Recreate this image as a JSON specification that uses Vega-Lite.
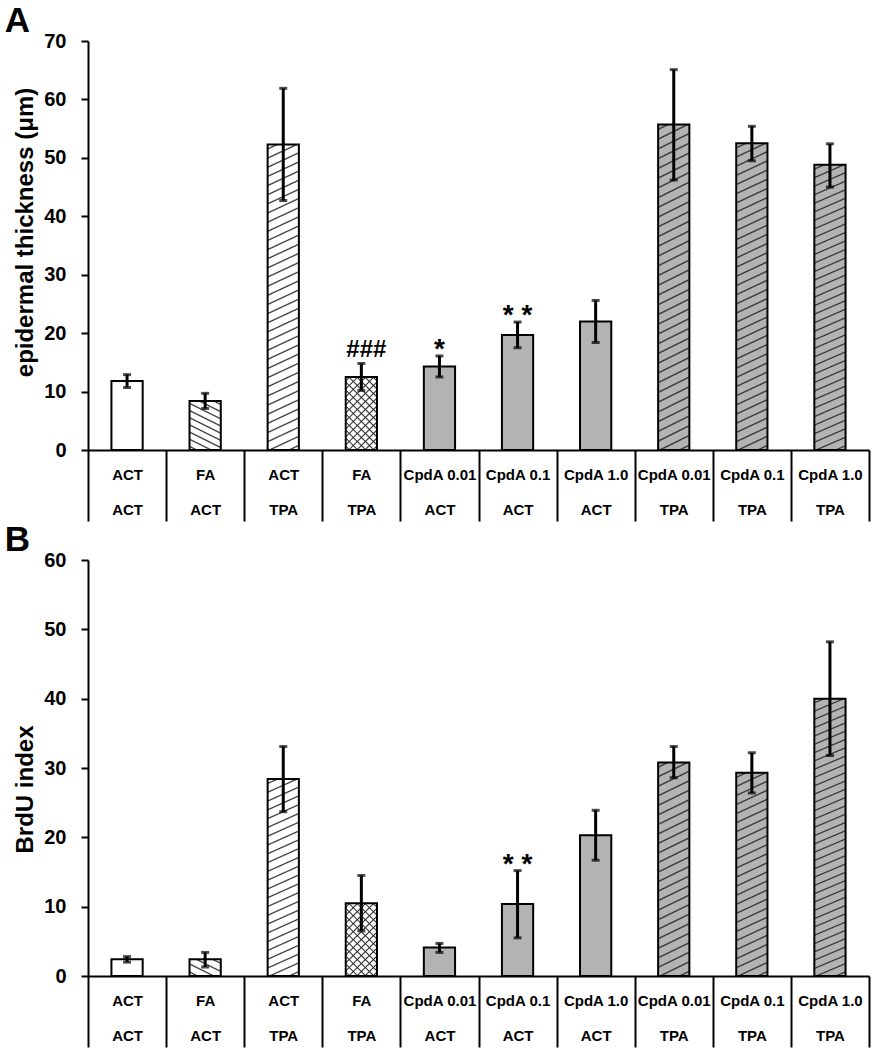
{
  "$schema": "https://vega.github.io/schema/vega-lite/v6.json",
  "padding": {"left": 4, "top": 4, "right": 3, "bottom": 0},
  "spacing": 1,
  "config": {"view": {"stroke": null}, "font": "Liberation Sans"},
  "datasets": {
    "A": [
      {"k": "ACT|ACT", "v": 11.8, "lo": 10.7, "hi": 12.9, "sig": ""},
      {"k": "FA|ACT", "v": 8.4, "lo": 7.1, "hi": 9.7, "sig": ""},
      {"k": "ACT|TPA", "v": 52.3, "lo": 42.7, "hi": 61.9, "sig": ""},
      {"k": "FA|TPA", "v": 12.5, "lo": 10.2, "hi": 14.8, "sig": "###"},
      {"k": "CpdA 0.01|ACT", "v": 14.3, "lo": 12.5, "hi": 16.1, "sig": "*"},
      {"k": "CpdA 0.1|ACT", "v": 19.7, "lo": 17.5, "hi": 21.9, "sig": "* *"},
      {"k": "CpdA 1.0|ACT", "v": 22.0, "lo": 18.4, "hi": 25.6, "sig": ""},
      {"k": "CpdA 0.01|TPA", "v": 55.7, "lo": 46.2, "hi": 65.1, "sig": ""},
      {"k": "CpdA 0.1|TPA", "v": 52.5, "lo": 49.5, "hi": 55.4, "sig": ""},
      {"k": "CpdA 1.0|TPA", "v": 48.8, "lo": 45.0, "hi": 52.4, "sig": ""}
    ],
    "B": [
      {"k": "ACT|ACT", "v": 2.4, "lo": 2.0, "hi": 2.8, "sig": ""},
      {"k": "FA|ACT", "v": 2.4, "lo": 1.3, "hi": 3.4, "sig": ""},
      {"k": "ACT|TPA", "v": 28.4, "lo": 23.7, "hi": 33.1, "sig": ""},
      {"k": "FA|TPA", "v": 10.5, "lo": 6.5, "hi": 14.5, "sig": ""},
      {"k": "CpdA 0.01|ACT", "v": 4.1, "lo": 3.4, "hi": 4.7, "sig": ""},
      {"k": "CpdA 0.1|ACT", "v": 10.4, "lo": 5.5, "hi": 15.2, "sig": "* *"},
      {"k": "CpdA 1.0|ACT", "v": 20.3, "lo": 16.7, "hi": 23.9, "sig": ""},
      {"k": "CpdA 0.01|TPA", "v": 30.8, "lo": 28.6, "hi": 33.1, "sig": ""},
      {"k": "CpdA 0.1|TPA", "v": 29.3, "lo": 26.4, "hi": 32.2, "sig": ""},
      {"k": "CpdA 1.0|TPA", "v": 40.0, "lo": 31.8, "hi": 48.2, "sig": ""}
    ]
  },
  "vconcat": [
    {
      "width": 781,
      "height": 409,
      "data": {"name": "A"},
      "title": {"text": "A", "anchor": "start", "frame": "bounds", "fontSize": 35, "fontWeight": "bold", "offset": -8, "dx": -9, "color": "black"},
      "encoding": {
        "x": {"field": "k", "type": "nominal", "sort": null, "scale": {"paddingInner": 0, "paddingOuter": 0},
          "axis": {"title": null, "labelAngle": 0, "labelExpr": "split(datum.label,'|')", "labelFontSize": 15, "labelFontWeight": "bold", "labelColor": "black", "labelLineHeight": 35, "labelBaseline": "top", "labelPadding": -54, "tickBand": "extent", "tickSize": 71, "tickWidth": 2, "tickColor": "black", "domainColor": "black", "domainWidth": 2}},
        "y": {"field": "v", "type": "quantitative", "scale": {"domain": [0, 70], "nice": false},
          "axis": {"title": "epidermal thickness (μm)", "titleFontSize": 24, "titleFontWeight": "bold", "titleColor": "black", "titlePadding": 6, "titleY": 191, "labelFontSize": 20, "labelFontWeight": "bold", "labelColor": "black", "labelPadding": 15, "tickSize": 7, "tickWidth": 2, "tickColor": "black", "domainColor": "black", "domainWidth": 2, "grid": false, "values": [0, 10, 20, 30, 40, 50, 60, 70]}}
      },
      "layer": [
        {"mark": {"type": "bar", "width": {"band": 0.4}, "strokeWidth": 0},
          "encoding": {
            "fill": {"condition": {"test": "indexof(datum.k,'CpdA')==0", "value": "#b3b3b3"}, "value": "white"}
          }},
        {"transform": [{"filter": {"field": "k", "oneOf": ["ACT|TPA", "CpdA 0.01|TPA", "CpdA 0.1|TPA", "CpdA 1.0|TPA"]}}],
          "mark": {"type": "bar", "width": {"band": 0.4}, "strokeWidth": 0,
            "fill": {"gradient": "linear", "x1": 0, "y1": 0, "x2": 0.0498, "y2": 1.0453, "stops": [
              {"offset": 0.0103, "color": "transparent"}, {"offset": 0.0143, "color": "#333"}, {"offset": 0.0183, "color": "transparent"},
              {"offset": 0.0389, "color": "transparent"}, {"offset": 0.0429, "color": "#333"}, {"offset": 0.0469, "color": "transparent"},
              {"offset": 0.0674, "color": "transparent"}, {"offset": 0.0714, "color": "#333"}, {"offset": 0.0754, "color": "transparent"},
              {"offset": 0.096, "color": "transparent"}, {"offset": 0.1, "color": "#333"}, {"offset": 0.104, "color": "transparent"},
              {"offset": 0.1246, "color": "transparent"}, {"offset": 0.1286, "color": "#333"}, {"offset": 0.1326, "color": "transparent"},
              {"offset": 0.1531, "color": "transparent"}, {"offset": 0.1571, "color": "#333"}, {"offset": 0.1611, "color": "transparent"},
              {"offset": 0.1817, "color": "transparent"}, {"offset": 0.1857, "color": "#333"}, {"offset": 0.1897, "color": "transparent"},
              {"offset": 0.2103, "color": "transparent"}, {"offset": 0.2143, "color": "#333"}, {"offset": 0.2183, "color": "transparent"},
              {"offset": 0.2389, "color": "transparent"}, {"offset": 0.2429, "color": "#333"}, {"offset": 0.2469, "color": "transparent"},
              {"offset": 0.2674, "color": "transparent"}, {"offset": 0.2714, "color": "#333"}, {"offset": 0.2754, "color": "transparent"},
              {"offset": 0.296, "color": "transparent"}, {"offset": 0.3, "color": "#333"}, {"offset": 0.304, "color": "transparent"},
              {"offset": 0.3246, "color": "transparent"}, {"offset": 0.3286, "color": "#333"}, {"offset": 0.3326, "color": "transparent"},
              {"offset": 0.3531, "color": "transparent"}, {"offset": 0.3571, "color": "#333"}, {"offset": 0.3611, "color": "transparent"},
              {"offset": 0.3817, "color": "transparent"}, {"offset": 0.3857, "color": "#333"}, {"offset": 0.3897, "color": "transparent"},
              {"offset": 0.4103, "color": "transparent"}, {"offset": 0.4143, "color": "#333"}, {"offset": 0.4183, "color": "transparent"},
              {"offset": 0.4389, "color": "transparent"}, {"offset": 0.4429, "color": "#333"}, {"offset": 0.4469, "color": "transparent"},
              {"offset": 0.4674, "color": "transparent"}, {"offset": 0.4714, "color": "#333"}, {"offset": 0.4754, "color": "transparent"},
              {"offset": 0.496, "color": "transparent"}, {"offset": 0.5, "color": "#333"}, {"offset": 0.504, "color": "transparent"},
              {"offset": 0.5246, "color": "transparent"}, {"offset": 0.5286, "color": "#333"}, {"offset": 0.5326, "color": "transparent"},
              {"offset": 0.5531, "color": "transparent"}, {"offset": 0.5571, "color": "#333"}, {"offset": 0.5611, "color": "transparent"},
              {"offset": 0.5817, "color": "transparent"}, {"offset": 0.5857, "color": "#333"}, {"offset": 0.5897, "color": "transparent"},
              {"offset": 0.6103, "color": "transparent"}, {"offset": 0.6143, "color": "#333"}, {"offset": 0.6183, "color": "transparent"},
              {"offset": 0.6389, "color": "transparent"}, {"offset": 0.6429, "color": "#333"}, {"offset": 0.6469, "color": "transparent"},
              {"offset": 0.6674, "color": "transparent"}, {"offset": 0.6714, "color": "#333"}, {"offset": 0.6754, "color": "transparent"},
              {"offset": 0.696, "color": "transparent"}, {"offset": 0.7, "color": "#333"}, {"offset": 0.704, "color": "transparent"},
              {"offset": 0.7246, "color": "transparent"}, {"offset": 0.7286, "color": "#333"}, {"offset": 0.7326, "color": "transparent"},
              {"offset": 0.7531, "color": "transparent"}, {"offset": 0.7571, "color": "#333"}, {"offset": 0.7611, "color": "transparent"},
              {"offset": 0.7817, "color": "transparent"}, {"offset": 0.7857, "color": "#333"}, {"offset": 0.7897, "color": "transparent"},
              {"offset": 0.8103, "color": "transparent"}, {"offset": 0.8143, "color": "#333"}, {"offset": 0.8183, "color": "transparent"},
              {"offset": 0.8389, "color": "transparent"}, {"offset": 0.8429, "color": "#333"}, {"offset": 0.8469, "color": "transparent"},
              {"offset": 0.8674, "color": "transparent"}, {"offset": 0.8714, "color": "#333"}, {"offset": 0.8754, "color": "transparent"},
              {"offset": 0.896, "color": "transparent"}, {"offset": 0.9, "color": "#333"}, {"offset": 0.904, "color": "transparent"},
              {"offset": 0.9246, "color": "transparent"}, {"offset": 0.9286, "color": "#333"}, {"offset": 0.9326, "color": "transparent"},
              {"offset": 0.9531, "color": "transparent"}, {"offset": 0.9571, "color": "#333"}, {"offset": 0.9611, "color": "transparent"},
              {"offset": 0.9817, "color": "transparent"}, {"offset": 0.9857, "color": "#333"}, {"offset": 0.9897, "color": "transparent"}
            ]}}},
        {"transform": [{"filter": {"field": "k", "equal": "FA|TPA"}}],
          "mark": {"type": "bar", "width": {"band": 0.4}, "strokeWidth": 0,
            "fill": {"gradient": "linear", "x1": 0, "y1": 0, "x2": 0.5126, "y2": 1.207, "stops": [
              {"offset": 0.0255, "color": "transparent"}, {"offset": 0.0385, "color": "#333"}, {"offset": 0.0515, "color": "transparent"},
              {"offset": 0.1024, "color": "transparent"}, {"offset": 0.1154, "color": "#333"}, {"offset": 0.1284, "color": "transparent"},
              {"offset": 0.1793, "color": "transparent"}, {"offset": 0.1923, "color": "#333"}, {"offset": 0.2053, "color": "transparent"},
              {"offset": 0.2562, "color": "transparent"}, {"offset": 0.2692, "color": "#333"}, {"offset": 0.2822, "color": "transparent"},
              {"offset": 0.3332, "color": "transparent"}, {"offset": 0.3462, "color": "#333"}, {"offset": 0.3592, "color": "transparent"},
              {"offset": 0.4101, "color": "transparent"}, {"offset": 0.4231, "color": "#333"}, {"offset": 0.4361, "color": "transparent"},
              {"offset": 0.487, "color": "transparent"}, {"offset": 0.5, "color": "#333"}, {"offset": 0.513, "color": "transparent"},
              {"offset": 0.5639, "color": "transparent"}, {"offset": 0.5769, "color": "#333"}, {"offset": 0.5899, "color": "transparent"},
              {"offset": 0.6408, "color": "transparent"}, {"offset": 0.6538, "color": "#333"}, {"offset": 0.6668, "color": "transparent"},
              {"offset": 0.7178, "color": "transparent"}, {"offset": 0.7308, "color": "#333"}, {"offset": 0.7438, "color": "transparent"},
              {"offset": 0.7947, "color": "transparent"}, {"offset": 0.8077, "color": "#333"}, {"offset": 0.8207, "color": "transparent"},
              {"offset": 0.8716, "color": "transparent"}, {"offset": 0.8846, "color": "#333"}, {"offset": 0.8976, "color": "transparent"},
              {"offset": 0.9485, "color": "transparent"}, {"offset": 0.9615, "color": "#333"}, {"offset": 0.9745, "color": "transparent"}
            ]}}},
        {"transform": [{"filter": {"field": "k", "equal": "FA|TPA"}}],
          "mark": {"type": "bar", "width": {"band": 0.4}, "strokeWidth": 0,
            "fill": {"gradient": "linear", "x1": 1, "y1": 0, "x2": 0.4874, "y2": 1.207, "stops": [
              {"offset": 0.0255, "color": "transparent"}, {"offset": 0.0385, "color": "#333"}, {"offset": 0.0515, "color": "transparent"},
              {"offset": 0.1024, "color": "transparent"}, {"offset": 0.1154, "color": "#333"}, {"offset": 0.1284, "color": "transparent"},
              {"offset": 0.1793, "color": "transparent"}, {"offset": 0.1923, "color": "#333"}, {"offset": 0.2053, "color": "transparent"},
              {"offset": 0.2562, "color": "transparent"}, {"offset": 0.2692, "color": "#333"}, {"offset": 0.2822, "color": "transparent"},
              {"offset": 0.3332, "color": "transparent"}, {"offset": 0.3462, "color": "#333"}, {"offset": 0.3592, "color": "transparent"},
              {"offset": 0.4101, "color": "transparent"}, {"offset": 0.4231, "color": "#333"}, {"offset": 0.4361, "color": "transparent"},
              {"offset": 0.487, "color": "transparent"}, {"offset": 0.5, "color": "#333"}, {"offset": 0.513, "color": "transparent"},
              {"offset": 0.5639, "color": "transparent"}, {"offset": 0.5769, "color": "#333"}, {"offset": 0.5899, "color": "transparent"},
              {"offset": 0.6408, "color": "transparent"}, {"offset": 0.6538, "color": "#333"}, {"offset": 0.6668, "color": "transparent"},
              {"offset": 0.7178, "color": "transparent"}, {"offset": 0.7308, "color": "#333"}, {"offset": 0.7438, "color": "transparent"},
              {"offset": 0.7947, "color": "transparent"}, {"offset": 0.8077, "color": "#333"}, {"offset": 0.8207, "color": "transparent"},
              {"offset": 0.8716, "color": "transparent"}, {"offset": 0.8846, "color": "#333"}, {"offset": 0.8976, "color": "transparent"},
              {"offset": 0.9485, "color": "transparent"}, {"offset": 0.9615, "color": "#333"}, {"offset": 0.9745, "color": "transparent"}
            ]}}},
        {"transform": [{"filter": {"field": "k", "equal": "FA|ACT"}}],
          "mark": {"type": "bar", "width": {"band": 0.4}, "strokeWidth": 0,
            "fill": {"gradient": "linear", "x1": 1, "y1": 0, "x2": 0.6215, "y2": 1.1966, "stops": [
              {"offset": 0.0356, "color": "transparent"}, {"offset": 0.0556, "color": "#333"}, {"offset": 0.0756, "color": "transparent"},
              {"offset": 0.1467, "color": "transparent"}, {"offset": 0.1667, "color": "#333"}, {"offset": 0.1867, "color": "transparent"},
              {"offset": 0.2578, "color": "transparent"}, {"offset": 0.2778, "color": "#333"}, {"offset": 0.2978, "color": "transparent"},
              {"offset": 0.3689, "color": "transparent"}, {"offset": 0.3889, "color": "#333"}, {"offset": 0.4089, "color": "transparent"},
              {"offset": 0.48, "color": "transparent"}, {"offset": 0.5, "color": "#333"}, {"offset": 0.52, "color": "transparent"},
              {"offset": 0.5911, "color": "transparent"}, {"offset": 0.6111, "color": "#333"}, {"offset": 0.6311, "color": "transparent"},
              {"offset": 0.7022, "color": "transparent"}, {"offset": 0.7222, "color": "#333"}, {"offset": 0.7422, "color": "transparent"},
              {"offset": 0.8133, "color": "transparent"}, {"offset": 0.8333, "color": "#333"}, {"offset": 0.8533, "color": "transparent"},
              {"offset": 0.9244, "color": "transparent"}, {"offset": 0.9444, "color": "#333"}, {"offset": 0.9644, "color": "transparent"}
            ]}}},
        {"mark": {"type": "bar", "width": {"band": 0.4}, "fillOpacity": 0, "stroke": "black", "strokeWidth": 2}},
        {"mark": {"type": "rule", "strokeWidth": 3, "color": "black"},
          "encoding": {"y": {"field": "lo", "type": "quantitative"}, "y2": {"field": "hi"}}},
        {"mark": {"type": "tick", "thickness": 3, "size": 8, "color": "black"},
          "encoding": {"y": {"field": "lo", "type": "quantitative"}}},
        {"mark": {"type": "tick", "thickness": 3, "size": 8, "color": "black"},
          "encoding": {"y": {"field": "hi", "type": "quantitative"}}},
        {"transform": [{"filter": {"field": "sig", "oneOf": ["*", "* *"]}}],
          "mark": {"type": "text", "fontSize": 28, "fontWeight": "bold", "baseline": "alphabetic", "dy": 2, "color": "black"},
          "encoding": {"y": {"field": "hi", "type": "quantitative"}, "text": {"field": "sig"}}},
        {"transform": [{"filter": {"field": "sig", "equal": "###"}}],
          "mark": {"type": "text", "fontSize": 24, "fontWeight": "bold", "baseline": "alphabetic", "dy": -7, "dx": 5, "color": "black"},
          "encoding": {"y": {"field": "hi", "type": "quantitative"}, "text": {"field": "sig"}}}
      ]
    },
    {
      "width": 781,
      "height": 416,
      "data": {"name": "B"},
      "title": {"text": "B", "anchor": "start", "frame": "bounds", "fontSize": 35, "fontWeight": "bold", "offset": -8, "dx": -9, "color": "black"},
      "encoding": {
        "x": {"field": "k", "type": "nominal", "sort": null, "scale": {"paddingInner": 0, "paddingOuter": 0},
          "axis": {"title": null, "labelAngle": 0, "labelExpr": "split(datum.label,'|')", "labelFontSize": 15, "labelFontWeight": "bold", "labelColor": "black", "labelLineHeight": 35, "labelBaseline": "top", "labelPadding": -54, "tickBand": "extent", "tickSize": 71, "tickWidth": 2, "tickColor": "black", "domainColor": "black", "domainWidth": 2}},
        "y": {"field": "v", "type": "quantitative", "scale": {"domain": [0, 60], "nice": false},
          "axis": {"title": "BrdU index", "titleFontSize": 24, "titleFontWeight": "bold", "titleColor": "black", "titlePadding": 6, "titleY": 229, "labelFontSize": 20, "labelFontWeight": "bold", "labelColor": "black", "labelPadding": 15, "tickSize": 7, "tickWidth": 2, "tickColor": "black", "domainColor": "black", "domainWidth": 2, "grid": false, "values": [0, 10, 20, 30, 40, 50, 60]}}
      },
      "layer": [
        {"mark": {"type": "bar", "width": {"band": 0.4}, "strokeWidth": 0},
          "encoding": {
            "fill": {"condition": {"test": "indexof(datum.k,'CpdA')==0", "value": "#b3b3b3"}, "value": "white"}
          }},
        {"transform": [{"filter": {"field": "k", "equal": "CpdA 1.0|TPA"}}],
          "mark": {"type": "bar", "width": {"band": 0.4}, "strokeWidth": 0,
            "fill": {"gradient": "linear", "x1": 0, "y1": 0, "x2": 0.0498, "y2": 1.0453, "stops": [
              {"offset": 0.0103, "color": "transparent"}, {"offset": 0.0143, "color": "#333"}, {"offset": 0.0183, "color": "transparent"},
              {"offset": 0.0389, "color": "transparent"}, {"offset": 0.0429, "color": "#333"}, {"offset": 0.0469, "color": "transparent"},
              {"offset": 0.0674, "color": "transparent"}, {"offset": 0.0714, "color": "#333"}, {"offset": 0.0754, "color": "transparent"},
              {"offset": 0.096, "color": "transparent"}, {"offset": 0.1, "color": "#333"}, {"offset": 0.104, "color": "transparent"},
              {"offset": 0.1246, "color": "transparent"}, {"offset": 0.1286, "color": "#333"}, {"offset": 0.1326, "color": "transparent"},
              {"offset": 0.1531, "color": "transparent"}, {"offset": 0.1571, "color": "#333"}, {"offset": 0.1611, "color": "transparent"},
              {"offset": 0.1817, "color": "transparent"}, {"offset": 0.1857, "color": "#333"}, {"offset": 0.1897, "color": "transparent"},
              {"offset": 0.2103, "color": "transparent"}, {"offset": 0.2143, "color": "#333"}, {"offset": 0.2183, "color": "transparent"},
              {"offset": 0.2389, "color": "transparent"}, {"offset": 0.2429, "color": "#333"}, {"offset": 0.2469, "color": "transparent"},
              {"offset": 0.2674, "color": "transparent"}, {"offset": 0.2714, "color": "#333"}, {"offset": 0.2754, "color": "transparent"},
              {"offset": 0.296, "color": "transparent"}, {"offset": 0.3, "color": "#333"}, {"offset": 0.304, "color": "transparent"},
              {"offset": 0.3246, "color": "transparent"}, {"offset": 0.3286, "color": "#333"}, {"offset": 0.3326, "color": "transparent"},
              {"offset": 0.3531, "color": "transparent"}, {"offset": 0.3571, "color": "#333"}, {"offset": 0.3611, "color": "transparent"},
              {"offset": 0.3817, "color": "transparent"}, {"offset": 0.3857, "color": "#333"}, {"offset": 0.3897, "color": "transparent"},
              {"offset": 0.4103, "color": "transparent"}, {"offset": 0.4143, "color": "#333"}, {"offset": 0.4183, "color": "transparent"},
              {"offset": 0.4389, "color": "transparent"}, {"offset": 0.4429, "color": "#333"}, {"offset": 0.4469, "color": "transparent"},
              {"offset": 0.4674, "color": "transparent"}, {"offset": 0.4714, "color": "#333"}, {"offset": 0.4754, "color": "transparent"},
              {"offset": 0.496, "color": "transparent"}, {"offset": 0.5, "color": "#333"}, {"offset": 0.504, "color": "transparent"},
              {"offset": 0.5246, "color": "transparent"}, {"offset": 0.5286, "color": "#333"}, {"offset": 0.5326, "color": "transparent"},
              {"offset": 0.5531, "color": "transparent"}, {"offset": 0.5571, "color": "#333"}, {"offset": 0.5611, "color": "transparent"},
              {"offset": 0.5817, "color": "transparent"}, {"offset": 0.5857, "color": "#333"}, {"offset": 0.5897, "color": "transparent"},
              {"offset": 0.6103, "color": "transparent"}, {"offset": 0.6143, "color": "#333"}, {"offset": 0.6183, "color": "transparent"},
              {"offset": 0.6389, "color": "transparent"}, {"offset": 0.6429, "color": "#333"}, {"offset": 0.6469, "color": "transparent"},
              {"offset": 0.6674, "color": "transparent"}, {"offset": 0.6714, "color": "#333"}, {"offset": 0.6754, "color": "transparent"},
              {"offset": 0.696, "color": "transparent"}, {"offset": 0.7, "color": "#333"}, {"offset": 0.704, "color": "transparent"},
              {"offset": 0.7246, "color": "transparent"}, {"offset": 0.7286, "color": "#333"}, {"offset": 0.7326, "color": "transparent"},
              {"offset": 0.7531, "color": "transparent"}, {"offset": 0.7571, "color": "#333"}, {"offset": 0.7611, "color": "transparent"},
              {"offset": 0.7817, "color": "transparent"}, {"offset": 0.7857, "color": "#333"}, {"offset": 0.7897, "color": "transparent"},
              {"offset": 0.8103, "color": "transparent"}, {"offset": 0.8143, "color": "#333"}, {"offset": 0.8183, "color": "transparent"},
              {"offset": 0.8389, "color": "transparent"}, {"offset": 0.8429, "color": "#333"}, {"offset": 0.8469, "color": "transparent"},
              {"offset": 0.8674, "color": "transparent"}, {"offset": 0.8714, "color": "#333"}, {"offset": 0.8754, "color": "transparent"},
              {"offset": 0.896, "color": "transparent"}, {"offset": 0.9, "color": "#333"}, {"offset": 0.904, "color": "transparent"},
              {"offset": 0.9246, "color": "transparent"}, {"offset": 0.9286, "color": "#333"}, {"offset": 0.9326, "color": "transparent"},
              {"offset": 0.9531, "color": "transparent"}, {"offset": 0.9571, "color": "#333"}, {"offset": 0.9611, "color": "transparent"},
              {"offset": 0.9817, "color": "transparent"}, {"offset": 0.9857, "color": "#333"}, {"offset": 0.9897, "color": "transparent"}
            ]}}},
        {"transform": [{"filter": {"field": "k", "oneOf": ["ACT|TPA", "CpdA 0.01|TPA", "CpdA 0.1|TPA"]}}],
          "mark": {"type": "bar", "width": {"band": 0.4}, "strokeWidth": 0,
            "fill": {"gradient": "linear", "x1": 0, "y1": 0, "x2": 0.0758, "y2": 1.0658, "stops": [
              {"offset": 0.015, "color": "transparent"}, {"offset": 0.0208, "color": "#333"}, {"offset": 0.0266, "color": "transparent"},
              {"offset": 0.0567, "color": "transparent"}, {"offset": 0.0625, "color": "#333"}, {"offset": 0.0683, "color": "transparent"},
              {"offset": 0.0984, "color": "transparent"}, {"offset": 0.1042, "color": "#333"}, {"offset": 0.11, "color": "transparent"},
              {"offset": 0.14, "color": "transparent"}, {"offset": 0.1458, "color": "#333"}, {"offset": 0.1516, "color": "transparent"},
              {"offset": 0.1817, "color": "transparent"}, {"offset": 0.1875, "color": "#333"}, {"offset": 0.1933, "color": "transparent"},
              {"offset": 0.2234, "color": "transparent"}, {"offset": 0.2292, "color": "#333"}, {"offset": 0.235, "color": "transparent"},
              {"offset": 0.265, "color": "transparent"}, {"offset": 0.2708, "color": "#333"}, {"offset": 0.2766, "color": "transparent"},
              {"offset": 0.3067, "color": "transparent"}, {"offset": 0.3125, "color": "#333"}, {"offset": 0.3183, "color": "transparent"},
              {"offset": 0.3484, "color": "transparent"}, {"offset": 0.3542, "color": "#333"}, {"offset": 0.36, "color": "transparent"},
              {"offset": 0.39, "color": "transparent"}, {"offset": 0.3958, "color": "#333"}, {"offset": 0.4016, "color": "transparent"},
              {"offset": 0.4317, "color": "transparent"}, {"offset": 0.4375, "color": "#333"}, {"offset": 0.4433, "color": "transparent"},
              {"offset": 0.4734, "color": "transparent"}, {"offset": 0.4792, "color": "#333"}, {"offset": 0.485, "color": "transparent"},
              {"offset": 0.515, "color": "transparent"}, {"offset": 0.5208, "color": "#333"}, {"offset": 0.5266, "color": "transparent"},
              {"offset": 0.5567, "color": "transparent"}, {"offset": 0.5625, "color": "#333"}, {"offset": 0.5683, "color": "transparent"},
              {"offset": 0.5984, "color": "transparent"}, {"offset": 0.6042, "color": "#333"}, {"offset": 0.61, "color": "transparent"},
              {"offset": 0.64, "color": "transparent"}, {"offset": 0.6458, "color": "#333"}, {"offset": 0.6516, "color": "transparent"},
              {"offset": 0.6817, "color": "transparent"}, {"offset": 0.6875, "color": "#333"}, {"offset": 0.6933, "color": "transparent"},
              {"offset": 0.7234, "color": "transparent"}, {"offset": 0.7292, "color": "#333"}, {"offset": 0.735, "color": "transparent"},
              {"offset": 0.765, "color": "transparent"}, {"offset": 0.7708, "color": "#333"}, {"offset": 0.7766, "color": "transparent"},
              {"offset": 0.8067, "color": "transparent"}, {"offset": 0.8125, "color": "#333"}, {"offset": 0.8183, "color": "transparent"},
              {"offset": 0.8484, "color": "transparent"}, {"offset": 0.8542, "color": "#333"}, {"offset": 0.86, "color": "transparent"},
              {"offset": 0.89, "color": "transparent"}, {"offset": 0.8958, "color": "#333"}, {"offset": 0.9016, "color": "transparent"},
              {"offset": 0.9317, "color": "transparent"}, {"offset": 0.9375, "color": "#333"}, {"offset": 0.9433, "color": "transparent"},
              {"offset": 0.9734, "color": "transparent"}, {"offset": 0.9792, "color": "#333"}, {"offset": 0.985, "color": "transparent"}
            ]}}},
        {"transform": [{"filter": {"field": "k", "equal": "FA|TPA"}}],
          "mark": {"type": "bar", "width": {"band": 0.4}, "strokeWidth": 0,
            "fill": {"gradient": "linear", "x1": 0, "y1": 0, "x2": 0.5126, "y2": 1.207, "stops": [
              {"offset": 0.0255, "color": "transparent"}, {"offset": 0.0385, "color": "#333"}, {"offset": 0.0515, "color": "transparent"},
              {"offset": 0.1024, "color": "transparent"}, {"offset": 0.1154, "color": "#333"}, {"offset": 0.1284, "color": "transparent"},
              {"offset": 0.1793, "color": "transparent"}, {"offset": 0.1923, "color": "#333"}, {"offset": 0.2053, "color": "transparent"},
              {"offset": 0.2562, "color": "transparent"}, {"offset": 0.2692, "color": "#333"}, {"offset": 0.2822, "color": "transparent"},
              {"offset": 0.3332, "color": "transparent"}, {"offset": 0.3462, "color": "#333"}, {"offset": 0.3592, "color": "transparent"},
              {"offset": 0.4101, "color": "transparent"}, {"offset": 0.4231, "color": "#333"}, {"offset": 0.4361, "color": "transparent"},
              {"offset": 0.487, "color": "transparent"}, {"offset": 0.5, "color": "#333"}, {"offset": 0.513, "color": "transparent"},
              {"offset": 0.5639, "color": "transparent"}, {"offset": 0.5769, "color": "#333"}, {"offset": 0.5899, "color": "transparent"},
              {"offset": 0.6408, "color": "transparent"}, {"offset": 0.6538, "color": "#333"}, {"offset": 0.6668, "color": "transparent"},
              {"offset": 0.7178, "color": "transparent"}, {"offset": 0.7308, "color": "#333"}, {"offset": 0.7438, "color": "transparent"},
              {"offset": 0.7947, "color": "transparent"}, {"offset": 0.8077, "color": "#333"}, {"offset": 0.8207, "color": "transparent"},
              {"offset": 0.8716, "color": "transparent"}, {"offset": 0.8846, "color": "#333"}, {"offset": 0.8976, "color": "transparent"},
              {"offset": 0.9485, "color": "transparent"}, {"offset": 0.9615, "color": "#333"}, {"offset": 0.9745, "color": "transparent"}
            ]}}},
        {"transform": [{"filter": {"field": "k", "equal": "FA|TPA"}}],
          "mark": {"type": "bar", "width": {"band": 0.4}, "strokeWidth": 0,
            "fill": {"gradient": "linear", "x1": 1, "y1": 0, "x2": 0.4874, "y2": 1.207, "stops": [
              {"offset": 0.0255, "color": "transparent"}, {"offset": 0.0385, "color": "#333"}, {"offset": 0.0515, "color": "transparent"},
              {"offset": 0.1024, "color": "transparent"}, {"offset": 0.1154, "color": "#333"}, {"offset": 0.1284, "color": "transparent"},
              {"offset": 0.1793, "color": "transparent"}, {"offset": 0.1923, "color": "#333"}, {"offset": 0.2053, "color": "transparent"},
              {"offset": 0.2562, "color": "transparent"}, {"offset": 0.2692, "color": "#333"}, {"offset": 0.2822, "color": "transparent"},
              {"offset": 0.3332, "color": "transparent"}, {"offset": 0.3462, "color": "#333"}, {"offset": 0.3592, "color": "transparent"},
              {"offset": 0.4101, "color": "transparent"}, {"offset": 0.4231, "color": "#333"}, {"offset": 0.4361, "color": "transparent"},
              {"offset": 0.487, "color": "transparent"}, {"offset": 0.5, "color": "#333"}, {"offset": 0.513, "color": "transparent"},
              {"offset": 0.5639, "color": "transparent"}, {"offset": 0.5769, "color": "#333"}, {"offset": 0.5899, "color": "transparent"},
              {"offset": 0.6408, "color": "transparent"}, {"offset": 0.6538, "color": "#333"}, {"offset": 0.6668, "color": "transparent"},
              {"offset": 0.7178, "color": "transparent"}, {"offset": 0.7308, "color": "#333"}, {"offset": 0.7438, "color": "transparent"},
              {"offset": 0.7947, "color": "transparent"}, {"offset": 0.8077, "color": "#333"}, {"offset": 0.8207, "color": "transparent"},
              {"offset": 0.8716, "color": "transparent"}, {"offset": 0.8846, "color": "#333"}, {"offset": 0.8976, "color": "transparent"},
              {"offset": 0.9485, "color": "transparent"}, {"offset": 0.9615, "color": "#333"}, {"offset": 0.9745, "color": "transparent"}
            ]}}},
        {"transform": [{"filter": {"field": "k", "equal": "FA|ACT"}}],
          "mark": {"type": "bar", "width": {"band": 0.4}, "strokeWidth": 0,
            "fill": {"gradient": "linear", "x1": 1, "y1": 0, "x2": 0.0354, "y2": 1.033, "stops": [
              {"offset": 0.085, "color": "transparent"}, {"offset": 0.125, "color": "#333"}, {"offset": 0.165, "color": "transparent"},
              {"offset": 0.335, "color": "transparent"}, {"offset": 0.375, "color": "#333"}, {"offset": 0.415, "color": "transparent"},
              {"offset": 0.585, "color": "transparent"}, {"offset": 0.625, "color": "#333"}, {"offset": 0.665, "color": "transparent"},
              {"offset": 0.835, "color": "transparent"}, {"offset": 0.875, "color": "#333"}, {"offset": 0.915, "color": "transparent"}
            ]}}},
        {"mark": {"type": "bar", "width": {"band": 0.4}, "fillOpacity": 0, "stroke": "black", "strokeWidth": 2}},
        {"mark": {"type": "rule", "strokeWidth": 3, "color": "black"},
          "encoding": {"y": {"field": "lo", "type": "quantitative"}, "y2": {"field": "hi"}}},
        {"mark": {"type": "tick", "thickness": 3, "size": 8, "color": "black"},
          "encoding": {"y": {"field": "lo", "type": "quantitative"}}},
        {"mark": {"type": "tick", "thickness": 3, "size": 8, "color": "black"},
          "encoding": {"y": {"field": "hi", "type": "quantitative"}}},
        {"transform": [{"filter": {"field": "sig", "oneOf": ["*", "* *"]}}],
          "mark": {"type": "text", "fontSize": 28, "fontWeight": "bold", "baseline": "alphabetic", "dy": 2, "color": "black"},
          "encoding": {"y": {"field": "hi", "type": "quantitative"}, "text": {"field": "sig"}}}
      ]
    }
  ]
}
